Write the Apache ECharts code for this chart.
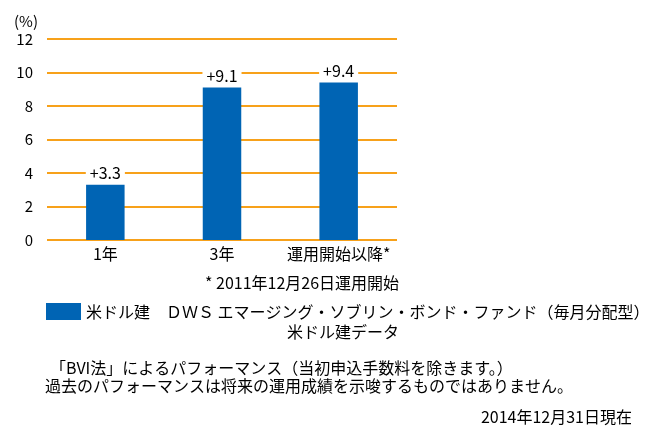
<!DOCTYPE html>
<html><head><meta charset="utf-8">
<script src="https://cdn.jsdelivr.net/npm/echarts@6/dist/echarts.min.js"></script>
<style>html,body{margin:0;padding:0;background:#fff}#c{width:646px;height:426px}</style>
</head><body><div id="c"></div>
<script>
const categories = ['1年', '3年', '運用開始以降*'];
const values = [3.3, 9.1, 9.4];
const valueLabels = ['+3.3', '+9.1', '+9.4'];
const seriesName = '米ドル建　ＤＷＳ エマージング・ソブリン・ボンド・ファンド（毎月分配型）';
const seriesNameLine2 = '米ドル建データ';
const footnote = '* 2011年12月26日運用開始';
const note1 = '「BVI法」によるパフォーマンス（当初申込手数料を除きます。）';
const note2 = '過去のパフォーマンスは将来の運用成績を示唆するものではありません。';
const asOf = '2014年12月31日現在';

const FONT = '"Noto Sans CJK JP", "Noto Sans", sans-serif';
const chart = echarts.init(document.getElementById('c'), null, {renderer: 'canvas'});
chart.setOption({
  animation: false,
  textStyle: {fontFamily: FONT, color: '#000'},
  grid: {left: 47, right: 249, top: 39, bottom: 186, containLabel: false},
  legend: {
    left: 46, top: 303, padding: 0, itemWidth: 35, itemHeight: 17, itemGap: 10,
    icon: 'rect',
    data: [seriesName],
    textStyle: {fontFamily: FONT, fontSize: 16, color: '#000', padding: [0, 0, 0, 0]}
  },
  xAxis: {
    type: 'category', data: categories,
    axisLine: {show: false}, axisTick: {show: false},
    axisLabel: {fontFamily: FONT, fontSize: 16, color: '#000', margin: 6, interval: 0}
  },
  yAxis: {
    type: 'value', min: 0, max: 12, interval: 2,
    name: '(%)', nameLocation: 'end', nameGap: 10,
    nameTextStyle: {fontFamily: FONT, fontSize: 15, color: '#000', align: 'right', padding: [0, 9, 0, 0]},
    axisLine: {show: false}, axisTick: {show: false},
    axisLabel: {fontFamily: FONT, fontSize: 15, color: '#000', margin: 14},
    splitLine: {lineStyle: {color: '#F7A11A', width: 2}}
  },
  series: [{
    name: seriesName, type: 'bar', data: values, barWidth: '33%',
    itemStyle: {color: '#0064B4'},
    label: {
      show: true, position: 'top', distance: 4,
      formatter: p => valueLabels[p.dataIndex],
      fontFamily: FONT, fontSize: 16, color: '#000',
      backgroundColor: '#fff', padding: [0, 4, 0, 4]
    }
  }],
  graphic: [
    {type: 'text', left: 205, top: 275, style: {text: footnote, font: '16px ' + FONT, fill: '#000'}},
    {type: 'text', left: 287, top: 324, style: {text: seriesNameLine2, font: '16px ' + FONT, fill: '#000'}},
    {type: 'text', left: 50, top: 360, style: {text: note1, font: '16px ' + FONT, fill: '#000'}},
    {type: 'text', left: 45, top: 378, style: {text: note2, font: '16px ' + FONT, fill: '#000'}},
    {type: 'text', right: 14, top: 409, style: {text: asOf, font: '16px ' + FONT, fill: '#000'}}
  ]
});
</script></body></html>
